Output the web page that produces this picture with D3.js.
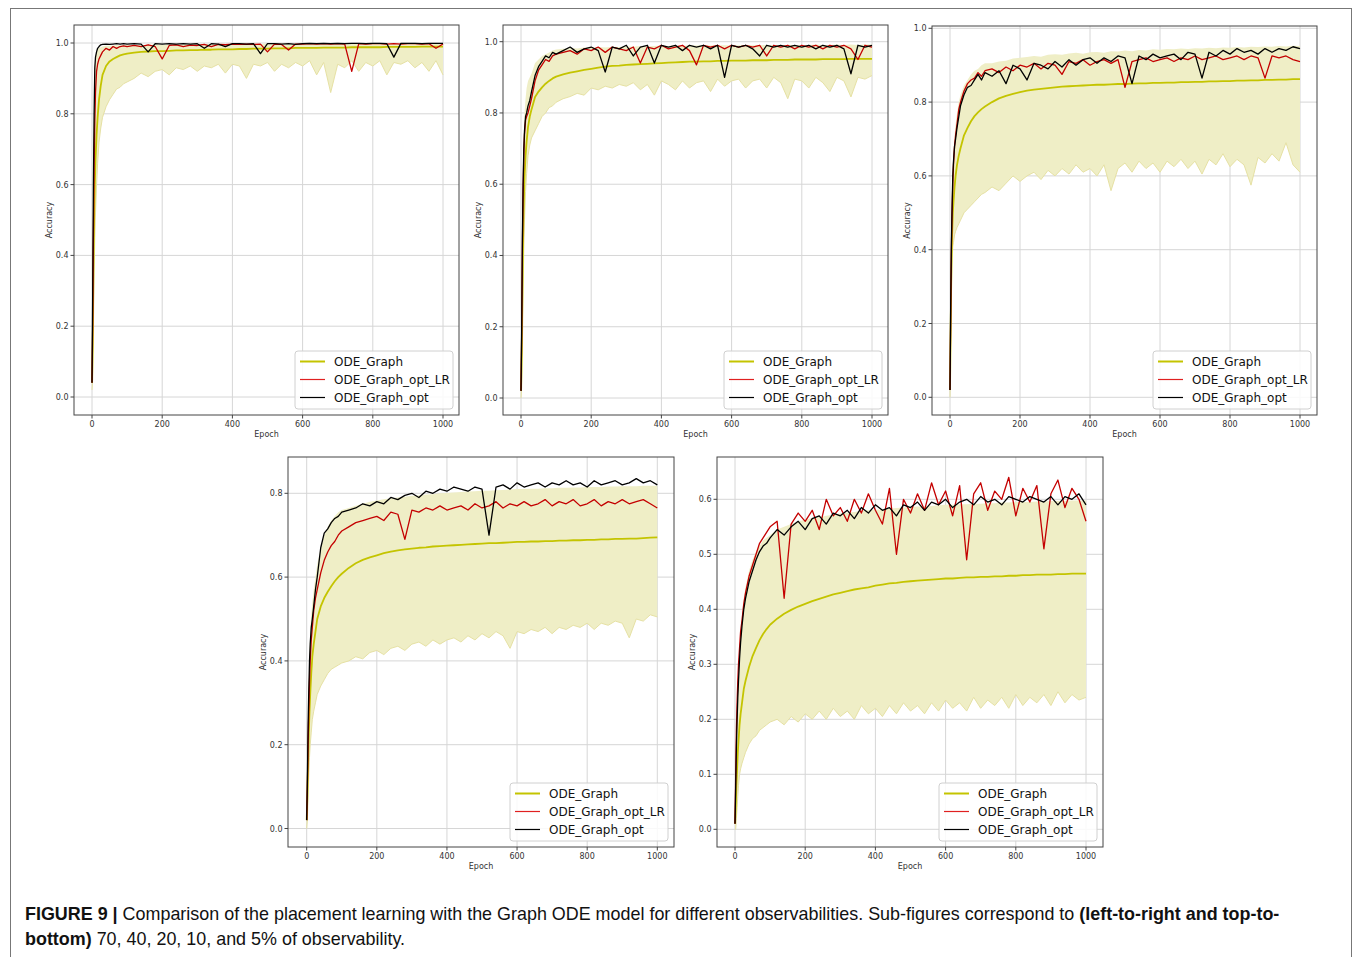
<!DOCTYPE html>
<html lang="en">
<head>
<meta charset="UTF-8">
<title>Figure 9 - Graph ODE placement learning</title>
<script src="https://d3js.org/d3.v7.min.js"></script>
<style>
  body { margin: 0; background: #fff; }
  svg text { font-family: "DejaVu Sans", sans-serif; }
</style>
</head>
<body>
<div id="fig"></div>
<script>
var epochs = [0,2,4,6,8,10,13,16,20,25,30,40,50,60,70,80,90,100,
  120,140,160,180,200, 220,240,260,280,300, 320,340,360,380,400, 420,440,460,480,500,
  520,540,560,580,600, 620,640,660,680,700, 720,740,760,780,800, 820,840,860,880,900, 920,940,960,980,1000];

var xTicks = [0, 200, 400, 600, 800, 1000];
var seriesNames = ["ODE_Graph", "ODE_Graph_opt_LR", "ODE_Graph_opt"];
var captionBold1 = "FIGURE 9 | ";
var captionText1 = "Comparison of the placement learning with the Graph ODE model for different observabilities. Sub-figures correspond to ";
var captionBold2 = "(left-to-right and top-to-";
var captionBold3 = "bottom)";
var captionText3 = " 70, 40, 20, 10, and 5% of observability.";

// ---- 70% observability
var mean70 = [0.04,0.15,0.35,0.5,0.6,0.67,0.74,0.79,0.84,0.88,0.91,0.935,0.948,0.955,0.96,0.965,0.968,0.97,
  0.973,0.975,0.976,0.977,0.977, 0.978,0.979,0.979,0.98,0.98, 0.981,0.981,0.982,0.982,0.982, 0.983,0.983,0.984,0.984,0.984,
  0.985,0.985,0.985,0.986,0.986, 0.986,0.986,0.987,0.987,0.987, 0.987,0.988,0.988,0.988,0.988, 0.988,0.989,0.989,0.989,0.989, 0.989,0.99,0.99,0.99,0.99];
var upper70 = [0.05,0.35,0.65,0.82,0.93,0.96,0.975,0.982,0.986,0.988,0.99,0.992,0.992,0.993,0.994,0.993,0.994,0.995,
  0.995,0.994,0.995,0.996,0.995, 0.996,0.995,0.996,0.997,0.996, 0.997,0.996,0.997,0.997,0.996, 0.997,0.997,0.998,0.997,0.998,
  0.997,0.998,0.997,0.998,0.998, 0.997,0.998,0.998,0.998,0.997, 0.998,0.998,0.998,0.997,0.998, 0.998,0.998,0.997,0.998,0.998, 0.998,0.998,0.998,0.997,0.998];
var lower70 = [0.02,0.05,0.2,0.35,0.45,0.52,0.6,0.66,0.72,0.76,0.79,0.82,0.84,0.855,0.87,0.875,0.885,0.89,
  0.9,0.915,0.905,0.92,0.925, 0.91,0.93,0.925,0.935,0.92, 0.935,0.93,0.94,0.915,0.94, 0.935,0.9,0.94,0.935,0.945,
  0.92,0.94,0.93,0.945,0.935, 0.95,0.91,0.945,0.86,0.94, 0.93,0.95,0.92,0.945,0.935, 0.95,0.91,0.945,0.94,0.95, 0.93,0.945,0.92,0.95,0.91];
var optLR70 = [0.04,0.2,0.45,0.65,0.78,0.86,0.92,0.94,0.955,0.965,0.975,0.985,0.98,0.99,0.985,0.99,0.992,0.99,
  0.993,0.99,0.995,0.99,0.955, 0.993,0.995,0.99,0.994,0.993, 0.996,0.99,0.996,0.995,0.997, 0.996,0.997,0.996,0.997,0.975,
  0.997,0.996,0.98,0.997,0.997, 0.998,0.997,0.998,0.997,0.998, 0.997,0.92,0.998,0.997,0.998, 0.998,0.997,0.998,0.997,0.998, 0.998,0.997,0.998,0.985,0.997];
var opt70 = [0.04,0.3,0.6,0.8,0.93,0.96,0.975,0.985,0.99,0.995,0.996,0.997,0.996,0.997,0.998,0.997,0.998,0.997,
  0.998,0.997,0.975,0.998,0.997, 0.998,0.997,0.998,0.997,0.998, 0.985,0.998,0.997,0.99,0.998, 0.998,0.997,0.998,0.97,0.998,
  0.998,0.997,0.998,0.996,0.998, 0.999,0.998,0.999,0.998,0.999, 0.998,0.999,0.999,0.998,0.999, 0.999,0.998,0.96,0.999,0.999, 0.999,0.998,0.999,0.999,0.999];

// ---- 40% observability
var mean40 = [0.02,0.12,0.3,0.45,0.55,0.62,0.68,0.72,0.76,0.79,0.81,0.845,0.86,0.872,0.882,0.89,0.897,0.902,
  0.908,0.913,0.917,0.921,0.924, 0.927,0.93,0.932,0.933,0.935, 0.936,0.937,0.938,0.939,0.94, 0.941,0.942,0.943,0.944,0.944,
  0.945,0.945,0.946,0.946,0.947, 0.947,0.947,0.948,0.948,0.948, 0.949,0.949,0.949,0.95,0.95, 0.95,0.95,0.951,0.951,0.951, 0.951,0.952,0.952,0.952,0.952];
var upper40 = [0.03,0.22,0.48,0.64,0.74,0.8,0.84,0.87,0.89,0.9,0.91,0.94,0.95,0.96,0.965,0.97,0.975,0.978,
  0.98,0.982,0.981,0.984,0.983, 0.985,0.984,0.986,0.985,0.987, 0.986,0.988,0.987,0.988,0.989, 0.988,0.989,0.988,0.99,0.989,
  0.99,0.989,0.99,0.99,0.989, 0.99,0.991,0.99,0.991,0.99, 0.991,0.99,0.991,0.991,0.99, 0.991,0.992,0.991,0.991,0.992, 0.991,0.992,0.991,0.992,0.992];
var lower40 = [0.0,0.03,0.15,0.3,0.42,0.5,0.58,0.63,0.68,0.71,0.73,0.75,0.77,0.79,0.8,0.815,0.82,0.83,
  0.84,0.846,0.855,0.85,0.87, 0.865,0.875,0.87,0.88,0.875, 0.885,0.865,0.88,0.85,0.89, 0.88,0.865,0.89,0.87,0.885,
  0.89,0.86,0.895,0.875,0.89, 0.895,0.87,0.89,0.895,0.87, 0.9,0.885,0.84,0.895,0.89, 0.87,0.9,0.885,0.86,0.9, 0.89,0.845,0.9,0.895,0.905];
var optLR40 = [0.02,0.18,0.42,0.58,0.68,0.74,0.78,0.79,0.8,0.82,0.84,0.89,0.92,0.935,0.95,0.945,0.96,0.965,
  0.97,0.975,0.965,0.98,0.975, 0.985,0.97,0.985,0.98,0.975, 0.985,0.94,0.985,0.98,0.99, 0.98,0.985,0.99,0.975,0.935,
  0.99,0.985,0.99,0.98,0.99, 0.985,0.99,0.985,0.99,0.96, 0.99,0.985,0.99,0.98,0.99, 0.985,0.99,0.98,0.99,0.985, 0.99,0.98,0.95,0.99,0.985];
var opt40 = [0.02,0.2,0.45,0.6,0.7,0.75,0.79,0.8,0.82,0.835,0.86,0.905,0.93,0.945,0.96,0.955,0.97,0.965,
  0.975,0.985,0.97,0.98,0.985, 0.975,0.915,0.985,0.98,0.99, 0.96,0.985,0.99,0.94,0.99, 0.985,0.99,0.975,0.99,0.985,
  0.99,0.98,0.99,0.9,0.99, 0.985,0.99,0.98,0.96,0.99, 0.985,0.99,0.985,0.99,0.985, 0.99,0.98,0.99,0.985,0.99, 0.98,0.91,0.99,0.985,0.99];

// ---- 20% observability
var mean20 = [0.02,0.2,0.35,0.44,0.5,0.53,0.57,0.6,0.63,0.655,0.675,0.71,0.73,0.748,0.762,0.772,0.781,0.788,
  0.8,0.81,0.817,0.822,0.827, 0.831,0.834,0.836,0.838,0.84, 0.842,0.843,0.844,0.845,0.846, 0.847,0.847,0.848,0.849,0.849,
  0.85,0.851,0.851,0.852,0.852, 0.853,0.853,0.854,0.854,0.855, 0.855,0.856,0.856,0.857,0.857, 0.858,0.858,0.859,0.859,0.86, 0.86,0.861,0.861,0.862,0.862];
var upper20 = [0.03,0.3,0.46,0.56,0.63,0.67,0.71,0.74,0.77,0.8,0.82,0.845,0.86,0.875,0.885,0.89,0.9,0.905,
  0.905,0.91,0.912,0.918,0.92, 0.922,0.925,0.923,0.928,0.93, 0.928,0.932,0.934,0.931,0.935, 0.936,0.934,0.938,0.937,0.94,
  0.938,0.941,0.94,0.943,0.942, 0.944,0.943,0.945,0.944,0.946, 0.945,0.947,0.946,0.948,0.947, 0.949,0.948,0.95,0.949,0.951, 0.95,0.952,0.951,0.953,0.952];
var lower20 = [0.0,0.15,0.3,0.38,0.41,0.42,0.44,0.45,0.46,0.47,0.48,0.5,0.51,0.52,0.53,0.54,0.55,0.555,
  0.57,0.56,0.58,0.6,0.585, 0.6,0.61,0.59,0.615,0.6, 0.62,0.605,0.63,0.61,0.62, 0.6,0.63,0.56,0.62,0.635,
  0.61,0.64,0.62,0.635,0.61, 0.64,0.625,0.645,0.62,0.64, 0.605,0.645,0.63,0.66,0.625, 0.645,0.63,0.575,0.65,0.635, 0.66,0.64,0.69,0.63,0.61];
var optLR20 = [0.02,0.22,0.4,0.5,0.58,0.63,0.68,0.71,0.74,0.78,0.8,0.83,0.85,0.86,0.865,0.88,0.87,0.885,
  0.89,0.88,0.895,0.885,0.9, 0.895,0.905,0.89,0.905,0.9, 0.875,0.91,0.905,0.915,0.9, 0.91,0.915,0.905,0.915,0.84,
  0.91,0.915,0.92,0.91,0.915, 0.92,0.91,0.92,0.915,0.925, 0.915,0.92,0.925,0.915,0.92, 0.925,0.915,0.925,0.92,0.865, 0.925,0.92,0.925,0.915,0.91];
var opt20 = [0.02,0.25,0.42,0.52,0.6,0.64,0.68,0.7,0.73,0.76,0.79,0.82,0.84,0.845,0.86,0.875,0.86,0.88,
  0.87,0.885,0.85,0.9,0.89, 0.86,0.905,0.9,0.89,0.91, 0.895,0.915,0.9,0.915,0.92, 0.905,0.92,0.91,0.925,0.92,
  0.85,0.925,0.915,0.93,0.92, 0.925,0.93,0.915,0.935,0.93, 0.865,0.935,0.925,0.94,0.93, 0.945,0.935,0.94,0.93,0.945, 0.935,0.945,0.94,0.95,0.945];

// ---- 10% observability
var mean10 = [0.02,0.08,0.16,0.23,0.28,0.32,0.37,0.41,0.44,0.47,0.5,0.53,0.55,0.565,0.578,0.59,0.6,0.608,
  0.622,0.633,0.641,0.647,0.652, 0.657,0.661,0.664,0.666,0.668, 0.67,0.671,0.673,0.674,0.675, 0.676,0.677,0.678,0.679,0.68,
  0.681,0.681,0.682,0.683,0.684, 0.684,0.685,0.685,0.686,0.686, 0.687,0.687,0.688,0.688,0.689, 0.689,0.69,0.69,0.691,0.691, 0.692,0.692,0.693,0.694,0.695];
var upper10 = [0.03,0.13,0.26,0.35,0.42,0.47,0.51,0.54,0.57,0.6,0.63,0.67,0.7,0.72,0.735,0.745,0.755,0.76,
  0.765,0.77,0.775,0.78,0.783, 0.786,0.788,0.79,0.792,0.794, 0.795,0.797,0.798,0.8,0.801, 0.802,0.803,0.804,0.805,0.806,
  0.806,0.807,0.808,0.809,0.81, 0.81,0.811,0.811,0.812,0.812, 0.813,0.813,0.814,0.814,0.815, 0.815,0.815,0.816,0.816,0.817, 0.817,0.817,0.818,0.818,0.818];
var lower10 = [0.0,0.02,0.08,0.13,0.17,0.2,0.23,0.26,0.28,0.3,0.32,0.34,0.355,0.37,0.38,0.385,0.39,0.395,
  0.4,0.41,0.405,0.42,0.425, 0.415,0.43,0.435,0.425,0.44, 0.445,0.435,0.45,0.44,0.45, 0.455,0.445,0.46,0.45,0.465,
  0.455,0.47,0.46,0.43,0.47, 0.465,0.475,0.47,0.48,0.465, 0.48,0.475,0.485,0.48,0.49, 0.475,0.49,0.485,0.495,0.49, 0.455,0.5,0.495,0.51,0.505];
var optLR10 = [0.02,0.1,0.2,0.28,0.35,0.4,0.45,0.48,0.52,0.55,0.57,0.61,0.64,0.66,0.675,0.685,0.7,0.71,
  0.72,0.73,0.735,0.74,0.745, 0.735,0.755,0.75,0.69,0.76, 0.755,0.765,0.76,0.77,0.76, 0.765,0.77,0.76,0.775,0.765,
  0.77,0.78,0.765,0.775,0.77, 0.78,0.77,0.775,0.785,0.77, 0.78,0.775,0.785,0.77,0.775, 0.785,0.77,0.78,0.775,0.785, 0.775,0.78,0.785,0.775,0.765];
var opt10 = [0.02,0.12,0.25,0.33,0.4,0.44,0.48,0.5,0.53,0.57,0.6,0.67,0.705,0.715,0.73,0.74,0.745,0.755,
  0.76,0.765,0.775,0.77,0.78, 0.775,0.79,0.785,0.795,0.8, 0.79,0.805,0.8,0.81,0.805, 0.815,0.81,0.805,0.815,0.81,
  0.7,0.815,0.82,0.81,0.825, 0.815,0.82,0.825,0.815,0.825, 0.82,0.83,0.82,0.825,0.815, 0.83,0.82,0.825,0.83,0.82, 0.825,0.835,0.825,0.83,0.82];

// ---- 5% observability
var mean5 = [0.01,0.04,0.08,0.11,0.14,0.16,0.19,0.21,0.23,0.255,0.27,0.295,0.315,0.33,0.344,0.355,0.364,0.372,
  0.383,0.392,0.399,0.405,0.41, 0.415,0.419,0.423,0.427,0.43, 0.433,0.436,0.438,0.44,0.443, 0.445,0.447,0.448,0.45,0.451,
  0.452,0.453,0.454,0.455,0.456, 0.456,0.457,0.458,0.458,0.459, 0.459,0.46,0.46,0.461,0.461, 0.462,0.462,0.463,0.463,0.463, 0.464,0.464,0.465,0.465,0.465];
var upper5 = [0.02,0.1,0.17,0.22,0.26,0.29,0.33,0.36,0.39,0.42,0.44,0.47,0.49,0.505,0.515,0.525,0.53,0.535,
  0.545,0.55,0.555,0.56,0.563, 0.566,0.568,0.57,0.572,0.574, 0.576,0.577,0.579,0.58,0.581, 0.582,0.583,0.584,0.585,0.586,
  0.587,0.587,0.588,0.589,0.59, 0.59,0.591,0.591,0.592,0.592, 0.593,0.593,0.594,0.594,0.595, 0.595,0.595,0.596,0.596,0.597, 0.597,0.597,0.598,0.598,0.598];
var lower5 = [0.0,0.0,0.02,0.04,0.06,0.08,0.1,0.11,0.12,0.13,0.14,0.155,0.165,0.17,0.18,0.185,0.19,0.195,
  0.2,0.19,0.205,0.195,0.21, 0.2,0.215,0.2,0.22,0.205, 0.215,0.2,0.225,0.21,0.22, 0.205,0.225,0.21,0.23,0.215,
  0.225,0.21,0.23,0.215,0.235, 0.22,0.23,0.215,0.24,0.22, 0.235,0.225,0.24,0.22,0.245, 0.225,0.24,0.23,0.245,0.225, 0.25,0.23,0.245,0.235,0.24];
var optLR5 = [0.01,0.1,0.18,0.23,0.27,0.3,0.33,0.36,0.38,0.41,0.43,0.46,0.48,0.5,0.52,0.53,0.54,0.55,
  0.56,0.42,0.555,0.575,0.56, 0.58,0.545,0.6,0.57,0.585, 0.56,0.6,0.575,0.61,0.58, 0.555,0.62,0.5,0.6,0.575,
  0.61,0.58,0.63,0.59,0.615, 0.57,0.625,0.49,0.61,0.63, 0.58,0.615,0.6,0.64,0.57, 0.62,0.595,0.625,0.51,0.61, 0.635,0.585,0.62,0.6,0.56];
var opt5 = [0.01,0.08,0.15,0.2,0.24,0.27,0.31,0.34,0.37,0.4,0.42,0.45,0.47,0.49,0.505,0.515,0.52,0.53,
  0.545,0.535,0.55,0.56,0.545, 0.565,0.57,0.555,0.575,0.57, 0.58,0.565,0.585,0.575,0.59, 0.58,0.585,0.57,0.59,0.585,
  0.595,0.58,0.595,0.59,0.6, 0.585,0.595,0.6,0.59,0.605, 0.595,0.6,0.59,0.605,0.6, 0.595,0.605,0.6,0.595,0.605, 0.59,0.605,0.6,0.61,0.59];

var panelData = [
  {mean: mean70, upper: upper70, lower: lower70, optLR: optLR70, opt: opt70, yTicks: [0, 0.2, 0.4, 0.6, 0.8, 1.0]},
  {mean: mean40, upper: upper40, lower: lower40, optLR: optLR40, opt: opt40, yTicks: [0, 0.2, 0.4, 0.6, 0.8, 1.0]},
  {mean: mean20, upper: upper20, lower: lower20, optLR: optLR20, opt: opt20, yTicks: [0, 0.2, 0.4, 0.6, 0.8, 1.0]},
  {mean: mean10, upper: upper10, lower: lower10, optLR: optLR10, opt: opt10, yTicks: [0, 0.2, 0.4, 0.6, 0.8]},
  {mean: mean5, upper: upper5, lower: lower5, optLR: optLR5, opt: opt5, yTicks: [0, 0.1, 0.2, 0.3, 0.4, 0.5, 0.6]}
];

// where each sub-figure sits on the page (axes box, plus pixel of x=0/1000 and y=0/yRef)
var layout = [
  {left: 74,  right: 459,  top: 25,  bottom: 415, x0: 92,    x1: 443,   yRef: 1.0, pRef: 43,    p0: 397},
  {left: 503, right: 888,  top: 25,  bottom: 415, x0: 521,   x1: 872,   yRef: 1.0, pRef: 41.7,  p0: 398},
  {left: 932, right: 1317, top: 26,  bottom: 415, x0: 950,   x1: 1300,  yRef: 1.0, pRef: 28.3,  p0: 397.3},
  {left: 288, right: 674,  top: 457, bottom: 847, x0: 306.7, x1: 657.3, yRef: 0.8, pRef: 493.3, p0: 828.5},
  {left: 717, right: 1103, top: 457, bottom: 847, x0: 735,   x1: 1086,  yRef: 0.6, pRef: 499.3, p0: 829.3}
];

var colors = {mean: "#c4c400", band: "#efeec6", bandEdge: "#e6e1a4", optLR: "#c40000", opt: "#000000"};

var W = 1355, H = 957;
var svg = d3.select("#fig").append("svg")
    .attr("width", W)
    .attr("height", H);

// outer frame of the figure
svg.append("rect")
    .attr("x", 10.5).attr("y", 8.5)
    .attr("width", 1341).attr("height", 980)
    .attr("fill", "none")
    .attr("stroke", "#777")
    .attr("stroke-width", 1);

panelData.forEach(function(pd, i) {
    var L = layout[i];
    ["mean", "upper", "lower", "optLR", "opt"].forEach(function(k) {
        if (pd[k].length !== epochs.length) console.error("panel " + i + " " + k + " has " + pd[k].length);
    });

    var x = d3.scaleLinear().domain([0, 1000]).range([L.x0, L.x1]);
    var y = d3.scaleLinear().domain([0, L.yRef]).range([L.p0, L.pRef]);

    var g = svg.append("g");

    g.append("clipPath").attr("id", "clip" + i)
        .append("rect")
        .attr("x", L.left).attr("y", L.top)
        .attr("width", L.right - L.left).attr("height", L.bottom - L.top);

    // grid
    g.selectAll(".vgrid").data(xTicks).enter().append("line")
        .attr("x1", function(d) { return x(d); }).attr("x2", function(d) { return x(d); })
        .attr("y1", L.top).attr("y2", L.bottom)
        .attr("stroke", "#d6d6d6").attr("stroke-width", 1);
    g.selectAll(".hgrid").data(pd.yTicks).enter().append("line")
        .attr("x1", L.left).attr("x2", L.right)
        .attr("y1", function(d) { return y(d); }).attr("y2", function(d) { return y(d); })
        .attr("stroke", "#d6d6d6").attr("stroke-width", 1);

    var plot = g.append("g").attr("clip-path", "url(#clip" + i + ")");

    var rows = epochs.map(function(e, j) {
        return {e: e, mean: pd.mean[j], upper: pd.upper[j], lower: pd.lower[j], optLR: pd.optLR[j], opt: pd.opt[j]};
    });

    // spread band of ODE_Graph
    plot.append("path")
        .datum(rows)
        .attr("fill", colors.band)
        .attr("d", d3.area()
            .x(function(d) { return x(d.e); })
            .y0(function(d) { return y(d.lower); })
            .y1(function(d) { return y(d.upper); }));
    plot.append("path")
        .datum(rows)
        .attr("fill", "none")
        .attr("stroke", colors.bandEdge)
        .attr("stroke-width", 1)
        .attr("d", d3.line()
            .x(function(d) { return x(d.e); })
            .y(function(d) { return y(d.lower); }));

    ["mean", "optLR", "opt"].forEach(function(k) {
        plot.append("path")
            .datum(rows)
            .attr("fill", "none")
            .attr("stroke", colors[k])
            .attr("stroke-width", k === "mean" ? 1.8 : 1.3)
            .attr("stroke-linejoin", "round")
            .attr("d", d3.line()
                .x(function(d) { return x(d.e); })
                .y(function(d) { return y(d[k]); }));
    });

    // spines
    g.append("rect")
        .attr("x", L.left).attr("y", L.top)
        .attr("width", L.right - L.left).attr("height", L.bottom - L.top)
        .attr("fill", "none")
        .attr("stroke", "#444")
        .attr("stroke-width", 1);

    // x ticks
    var xt = g.selectAll(".xt").data(xTicks).enter().append("g");
    xt.append("line")
        .attr("x1", function(d) { return x(d); }).attr("x2", function(d) { return x(d); })
        .attr("y1", L.bottom).attr("y2", L.bottom + 3.5)
        .attr("stroke", "#444");
    xt.append("text")
        .attr("x", function(d) { return x(d); })
        .attr("y", L.bottom + 11.5)
        .attr("text-anchor", "middle")
        .attr("font-size", 8)
        .attr("fill", "#333")
        .text(function(d) { return d; });

    // y ticks
    var fmt = d3.format(".1f");
    var yt = g.selectAll(".yt").data(pd.yTicks).enter().append("g");
    yt.append("line")
        .attr("x1", L.left - 3.5).attr("x2", L.left)
        .attr("y1", function(d) { return y(d); }).attr("y2", function(d) { return y(d); })
        .attr("stroke", "#444");
    yt.append("text")
        .attr("x", L.left - 5.5)
        .attr("y", function(d) { return y(d) + 3; })
        .attr("text-anchor", "end")
        .attr("font-size", 8)
        .attr("fill", "#333")
        .text(function(d) { return fmt(d); });

    // axis labels
    g.append("text")
        .attr("x", (L.left + L.right) / 2)
        .attr("y", L.bottom + 22)
        .attr("text-anchor", "middle")
        .attr("font-size", 8)
        .attr("fill", "#333")
        .text("Epoch");
    g.append("text")
        .attr("transform", "translate(" + (L.left - 22) + "," + ((L.top + L.bottom) / 2) + ") rotate(-90)")
        .attr("text-anchor", "middle")
        .attr("font-size", 8)
        .attr("fill", "#333")
        .text("Accuracy");

    // legend
    var lw = 158, lh = 58;
    var lg = g.append("g")
        .attr("transform", "translate(" + (L.right - 6 - lw) + "," + (L.bottom - 6 - lh) + ")");
    lg.append("rect")
        .attr("width", lw).attr("height", lh)
        .attr("rx", 3)
        .attr("fill", "#fff").attr("fill-opacity", 0.85)
        .attr("stroke", "#d0d0d0");
    var legendColors = [colors.mean, "#e02020", colors.opt];
    seriesNames.forEach(function(name, j) {
        var cy = 10.5 + j * 18;
        lg.append("line")
            .attr("x1", 5).attr("x2", 30)
            .attr("y1", cy).attr("y2", cy)
            .attr("stroke", legendColors[j])
            .attr("stroke-width", j === 0 ? 2 : 1.2);
        lg.append("text")
            .attr("x", 39).attr("y", cy + 4.5)
            .attr("font-size", 12)
            .attr("fill", "#111")
            .text(name);
    });
});

// caption
var cap1 = svg.append("text")
    .style("font-family", "'Liberation Sans', Arial, sans-serif")
    .attr("font-size", 18)
    .attr("fill", "#111");
cap1.append("tspan").attr("font-weight", "bold").text(captionBold1);
cap1.append("tspan").text(captionText1);
cap1.append("tspan").attr("font-weight", "bold").text(captionBold2);

var cap2 = svg.append("text")
    .style("font-family", "'Liberation Sans', Arial, sans-serif")
    .attr("font-size", 18)
    .attr("fill", "#111");
cap2.append("tspan").attr("font-weight", "bold").text(captionBold3);
cap2.append("tspan").text(captionText3);

var w1 = cap1.node().getComputedTextLength();
var sx = (1280 - 25) / w1;
cap1.attr("transform", "translate(25,920) scale(" + sx + ",1)");
cap2.attr("transform", "translate(25,945) scale(" + sx + ",1)");
</script>
</body>
</html>
